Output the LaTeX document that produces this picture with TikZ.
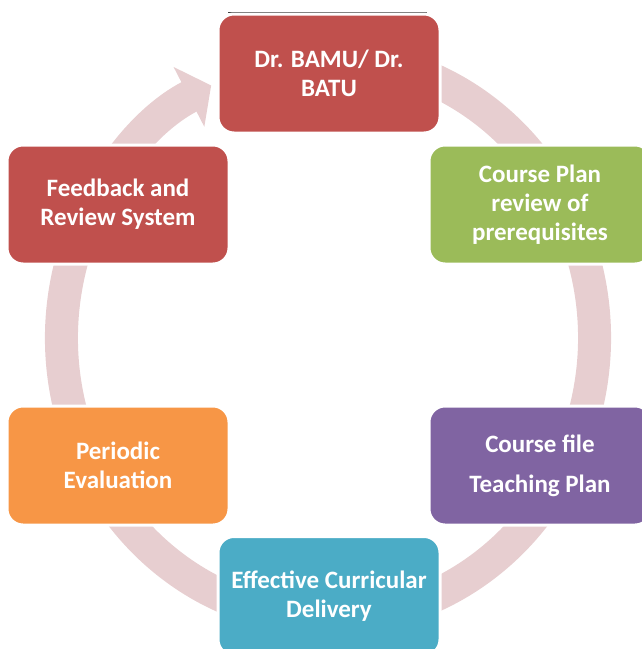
\documentclass[tikz,border=0pt]{standalone}
\usepackage{fontspec}
\setmainfont{Carlito}
\usetikzlibrary{arrows.meta}
\definecolor{bamured}{RGB}{192,80,77}
\definecolor{planolive}{RGB}{155,187,89}
\definecolor{fileviolet}{RGB}{128,100,162}
\definecolor{deliveryaqua}{RGB}{75,172,198}
\definecolor{evalorange}{RGB}{247,150,70}
\definecolor{ringpink}{RGB}{231,206,208}
\begin{document}
\begin{tikzpicture}[x=1pt, y=1pt, stage/.style={draw=white, line width=3pt, rounded corners=16pt, minimum width=222pt, minimum height=119pt, inner sep=0pt, text=white, align=center, font=\bfseries\fontsize{25}{29}\selectfont}, ringarrow/.style={ringpink, line width=33pt, -{Triangle[length=25pt, width=66pt]}}]
%			\draw[help lines] (0,0) grid (642,-649);
			\useasboundingbox (0,0) rectangle (642,-649);
			\coordinate (ctr) at (328,-338);
			\draw[ringarrow] ([shift={(75:266.5 and 281)}]ctr) arc[start angle=75, end angle=-244, x radius=266.5, y radius=281];
			\draw[black!75, line width=0.8pt] (228,-12) -- (427,-12);
			\node[stage, fill=bamured] (bamu) at (329,-73.5) {Dr. BAMU/ Dr.\\BATU};
			\node[stage, fill=planolive] (plan) at (540,-204.5) {Course Plan\\review of\\prerequisites};
			\node[stage, fill=fileviolet] (file) at (540,-465.5) {Course file\\[11pt]Teaching Plan};
			\node[stage, fill=deliveryaqua] (delivery) at (329,-596) {Effective Curricular\\Delivery};
			\node[stage, fill=evalorange] (eval) at (118,-465.5) {Periodic\\Evaluation};
			\node[stage, fill=bamured] (feedback) at (118,-204.5) {Feedback and\\Review System};
		\end{tikzpicture}
\end{document}
